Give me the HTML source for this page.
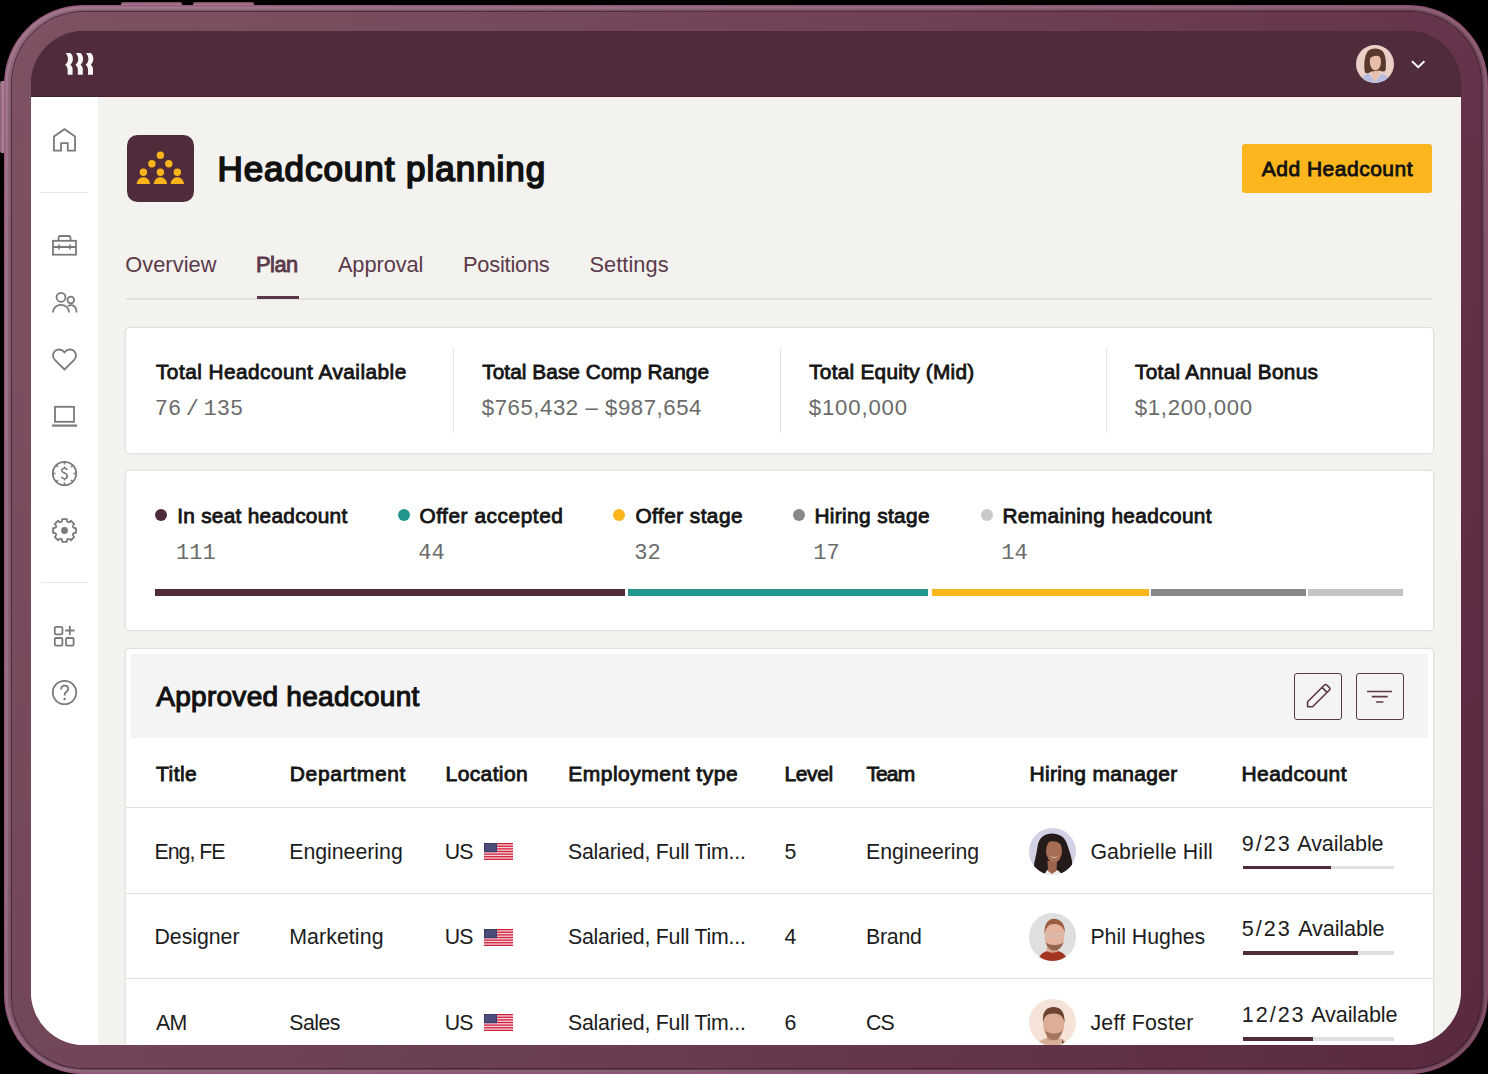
<!DOCTYPE html>
<html><head><meta charset="utf-8"><title>Headcount planning</title>
<style>
html,body{margin:0;padding:0;}
body{width:1488px;height:1074px;position:relative;overflow:hidden;background:#000;font-family:'Liberation Sans', sans-serif;}
.t{position:absolute;line-height:1;white-space:nowrap;}
.r{position:absolute;}
</style></head><body>
<div class="r" style="left:121px;top:1.6px;width:61px;height:6px;border-radius:2px;background:linear-gradient(#7a4a60,#a77d92 45%,#7f5266)"></div>
<div class="r" style="left:193px;top:1.6px;width:61px;height:6px;border-radius:2px;background:linear-gradient(#7a4a60,#a77d92 45%,#7f5266)"></div>
<div class="r" style="left:0px;top:81px;width:8px;height:72px;border-radius:2px;background:linear-gradient(90deg,#8d5f76,#b08499 40%,#7f5266)"></div>
<div class="r" style="left:3.8px;top:4.8px;width:1484.2px;height:1069.2px;border-radius:79px;background:linear-gradient(180deg,rgba(255,255,255,0.06),rgba(255,255,255,0) 25%,rgba(0,0,0,0) 70%,rgba(0,0,0,0.08)),linear-gradient(100deg,#8a6075 0%,#7a4f64 50%,#66394d 100%);box-shadow:inset 0 0 0 1.4px rgba(150,70,115,0.6), inset 0 0 0 3.8px rgba(255,220,240,0.16)"></div>
<div class="r" style="left:11.5px;top:11.8px;width:1469.5px;height:1056.7px;border-radius:72px;background:linear-gradient(180deg,rgba(255,255,255,0.02),rgba(0,0,0,0) 40%,rgba(0,0,0,0.05)),linear-gradient(100deg,#7b4e60 0%,#6f3f54 50%,#5f2b43 100%);box-shadow:0 0 0 1.2px rgba(50,18,34,0.65)"></div>
<div class="r" style="left:31px;top:31px;width:1430px;height:1014px;border-radius:53px;overflow:hidden;background:linear-gradient(#4f2b3c 0 60px,#f3f2ef 60px)">
<div style="position:absolute;left:-31px;top:-31px;width:1488px;height:1074px">
<div class="r" style="left:31px;top:31px;width:1430.0px;height:66.0px;background:#4f2b3c;"></div>
<div class="r" style="left:31px;top:96px;width:1430.0px;height:1.0px;background:#481f31;"></div>
<div class="r" style="left:31px;top:97px;width:67.0px;height:948.0px;background:#ffffff;"></div>
<svg class="r" style="left:64.6px;top:53px" width="30" height="23" viewBox="0 0 30 23">
<g fill="#f7f6f4">
<path d="M0.6,0 H5.2 C7,1.2 8,3.6 7.9,6.2 C7.8,8.8 6.6,10.6 5.4,11.8 C6.8,13 7.6,14.4 7.6,16.2 V21.8 H2.6 V16.4 C2.6,14.6 1.4,13 0.2,11.8 C1.8,10.4 2.9,8.6 3,6.2 C3,3.6 2,1.4 0.6,0 Z"/>
<path transform="translate(10.2 0)" d="M0.6,0 H5.2 C7,1.2 8,3.6 7.9,6.2 C7.8,8.8 6.6,10.6 5.4,11.8 C6.8,13 7.6,14.4 7.6,16.2 V21.8 H2.6 V16.4 C2.6,14.6 1.4,13 0.2,11.8 C1.8,10.4 2.9,8.6 3,6.2 C3,3.6 2,1.4 0.6,0 Z"/>
<path transform="translate(20.4 0)" d="M0.6,0 H5.2 C7,1.2 8,3.6 7.9,6.2 C7.8,8.8 6.6,10.6 5.4,11.8 C6.8,13 7.6,14.4 7.6,16.2 V21.8 H2.6 V16.4 C2.6,14.6 1.4,13 0.2,11.8 C1.8,10.4 2.9,8.6 3,6.2 C3,3.6 2,1.4 0.6,0 Z"/>
</g></svg>
<div class="r" style="left:1356px;top:45px;width:38px;height:38px;border-radius:50%;overflow:hidden"><svg style="display:block" width="38" height="38" viewBox="0 0 38 38">
<g>
<rect width="38" height="38" fill="#ead0c6"/>
<path d="M4,38 C5,32 9,29.5 13,28.5 L19.3,37 L25,28.5 C29,29.5 33,31 34.5,38 Z" fill="#b8bde0"/>
<path d="M14,26 L19.3,37 L24.5,26 Z" fill="#e6c0ad"/>
<path d="M9,27.5 C7.5,20 8.5,10 12,6 C15,2.5 23,2.5 26.5,6 C30,10 30.5,19 29.5,25.5 C28,27 25.5,26.5 24,25.5 L15,26.5 C13,28.5 10.5,28.8 9,27.5 Z" fill="#5a382b"/>
<ellipse cx="19.4" cy="17" rx="5.6" ry="8.4" fill="#e7bea9"/>
<path d="M13.6,13.5 C14,8 17,6.8 20,6.8 C23,6.8 25.6,9 25.2,12.5 C22,9.8 17,10.2 13.6,13.5 Z" fill="#5a382b"/>
</g></svg></div>
<svg class="r" style="left:1410px;top:58px" width="16" height="12" viewBox="0 0 16 12"><path d="M2,3.2 L8.2,9.2 L14.4,3.2" fill="none" stroke="#fff" stroke-width="1.9"/></svg>
<svg class="r" style="left:52px;top:127px" width="26" height="26" viewBox="0 0 26 26" fill="none" stroke="#7a7a7a" stroke-width="1.8"><path d="M1.95,23.55 V9.5 L12.5,2.2 L23.05,9.5 V23.55 H15.75 V16.05 H9.05 V23.55 Z" stroke-linejoin="miter"/></svg>
<div class="r" style="left:41px;top:191.5px;width:47.0px;height:1.3px;background:#e7e7e7;"></div>
<svg class="r" style="left:51px;top:233px" width="27" height="24" viewBox="0 0 27 24" fill="none" stroke="#7a7a7a" stroke-width="1.8"><rect x="2" y="7.8" width="23" height="13.9"/><path d="M7.5,7.8 V5 Q7.5,3 9.5,3 H17.5 Q19.5,3 19.5,5 V7.8"/><path d="M2,14 H25"/><path d="M8,11.5 V16.5 M19,11.5 V16.5" stroke-width="1.6"/></svg>
<svg class="r" style="left:51px;top:291px" width="27" height="23" viewBox="0 0 27 23" fill="none" stroke="#7a7a7a" stroke-width="1.8"><circle cx="10" cy="6.3" r="4.5"/><circle cx="19.8" cy="9" r="3.3"/><path d="M1.9,21.5 C2.5,16.5 6,13.8 10,13.8 C14,13.8 17.5,16.5 18.1,21.5"/><path d="M17,15.2 C18,14.4 19,14.2 20,14.2 C23,14.2 25.3,16.8 25.6,21.5"/></svg>
<svg class="r" style="left:51px;top:346px" width="27" height="26" viewBox="0 0 27 26" fill="none" stroke="#7a7a7a" stroke-width="1.8"><path d="M13.5,23.5 L3.8,13.8 C1.5,11.5 1.5,7.5 3.8,5.2 C6.1,2.9 10,2.9 12.3,5.2 L13.5,6.4 L14.7,5.2 C17,2.9 20.9,2.9 23.2,5.2 C25.5,7.5 25.5,11.5 23.2,13.8 Z" stroke-linejoin="miter"/></svg>
<svg class="r" style="left:51px;top:404px" width="27" height="24" viewBox="0 0 27 24" fill="none" stroke="#7a7a7a" stroke-width="1.8"><rect x="4" y="2.8" width="19" height="15"/><path d="M1,21.6 H26" stroke-width="2.2"/></svg>
<svg class="r" style="left:51px;top:460px" width="27" height="27" viewBox="0 0 27 27" fill="none" stroke="#7a7a7a" stroke-width="1.8"><circle cx="13.5" cy="13.5" r="11.7"/><path d="M13.5,1.8 V4.5 M13.5,22.5 V25.2 M1.8,13.5 H4.5 M22.5,13.5 H25.2 M5.2,5.2 L7,7 M20,20 L21.8,21.8 M21.8,5.2 L20,7 M7,20 L5.2,21.8" stroke-width="1.6"/><path d="M16.3,10 C16,8.9 15,8.3 13.5,8.3 C11.8,8.3 10.8,9.2 10.8,10.5 C10.8,13.5 16.3,12.6 16.3,16 C16.3,17.6 15.1,18.7 13.5,18.7 C11.9,18.7 10.9,17.9 10.6,16.8 M13.5,6.6 V8.3 M13.5,18.7 V20.4" stroke-width="1.6"/></svg>
<svg class="r" style="left:51px;top:517px" width="27" height="27" viewBox="0 0 27 27" fill="none" stroke="#7a7a7a" stroke-width="1.8"><path d="M11.17,2.03 L15.83,2.03 L15.98,3.92 Q16.71,5.74 18.52,4.97 L19.96,3.74 L23.26,7.04 L22.03,8.48 Q21.26,10.29 23.08,11.02 L24.97,11.17 L24.97,15.83 L23.08,15.98 Q21.26,16.71 22.03,18.52 L23.26,19.96 L19.96,23.26 L18.52,22.03 Q16.71,21.26 15.98,23.08 L15.83,24.97 L11.17,24.97 L11.02,23.08 Q10.29,21.26 8.48,22.03 L7.04,23.26 L3.74,19.96 L4.97,18.52 Q5.74,16.71 3.92,15.98 L2.03,15.83 L2.03,11.17 L3.92,11.02 Q5.74,10.29 4.97,8.48 L3.74,7.04 L7.04,3.74 L8.48,4.97 Q10.29,5.74 11.02,3.92 Z" stroke-linejoin="round"/><circle cx="13.5" cy="13.5" r="3.4" fill="#7a7a7a" stroke="none"/></svg>
<div class="r" style="left:41px;top:581.5px;width:47.0px;height:1.3px;background:#e7e7e7;"></div>
<svg class="r" style="left:52px;top:624px" width="25" height="24" viewBox="0 0 25 24" fill="none" stroke="#7a7a7a" stroke-width="1.8"><rect x="2.8" y="2.8" width="7.6" height="7.6" rx="1.2"/><rect x="2.8" y="14" width="7.6" height="7.6" rx="1.2"/><rect x="14" y="14" width="7.6" height="7.6" rx="1.2"/><path d="M17.8,1.8 V11.2 M13.1,6.5 H22.5"/></svg>
<svg class="r" style="left:51px;top:679px" width="27" height="27" viewBox="0 0 27 27" fill="none" stroke="#7a7a7a" stroke-width="1.8"><circle cx="13.5" cy="13.5" r="11.7"/><path d="M10,10.5 C10,8 11.6,6.6 13.6,6.6 C15.7,6.6 17.2,8 17.2,10 C17.2,12.6 13.6,13 13.6,15.8 V16.6" stroke-width="1.8"/><circle cx="13.6" cy="20" r="1.2" fill="#7a7a7a" stroke="none"/></svg>
<svg class="r" style="left:126.5px;top:135px" width="67" height="67" viewBox="0 0 67 67">
<rect width="67" height="67" rx="10.5" fill="#4f2b3c"/>
<g fill="#fbb518">
<circle cx="33.4" cy="20.3" r="3.7"/><circle cx="24.9" cy="28.7" r="3.7"/><circle cx="41.8" cy="28.7" r="3.7"/>
<circle cx="16.4" cy="37.2" r="3.7"/><circle cx="33.4" cy="37.2" r="3.7"/><circle cx="50.3" cy="37.2" r="3.7"/>
<path d="M9.7,49 C10.2,44.5 13,42.2 16.4,42.2 C19.8,42.2 22.6,44.5 23.1,49 Z"/>
<path d="M26.7,49 C27.2,44.5 30,42.2 33.4,42.2 C36.8,42.2 39.6,44.5 40.1,49 Z"/>
<path d="M43.6,49 C44.1,44.5 46.9,42.2 50.3,42.2 C53.7,42.2 56.5,44.5 57,49 Z"/>
</g></svg>
<div class="t" style="left:217.4px;top:150.8px;font-size:35px;font-weight:400;color:#111111;font-family:'Liberation Sans', sans-serif;letter-spacing:0.97px;-webkit-text-stroke:1.7px #111111;">Headcount planning</div>
<div class="r" style="left:1242px;top:143.6px;width:190px;height:49.7px;border-radius:3px;background:#fbb61e"></div>
<div class="t" style="left:1261.7px;top:158.0px;font-size:21px;font-weight:400;color:#111111;font-family:'Liberation Sans', sans-serif;letter-spacing:0.51px;-webkit-text-stroke:0.84px #111111;">Add Headcount</div>
<div class="t" style="left:125.2px;top:254.1px;font-size:21.8px;font-weight:400;color:#5b3a4a;font-family:'Liberation Sans', sans-serif;letter-spacing:0.07px;">Overview</div>
<div class="t" style="left:256.0px;top:254.1px;font-size:21.8px;font-weight:400;color:#5b3a4a;font-family:'Liberation Sans', sans-serif;letter-spacing:-0.49px;-webkit-text-stroke:0.87px #5b3a4a;">Plan</div>
<div class="t" style="left:337.9px;top:254.1px;font-size:21.8px;font-weight:400;color:#5b3a4a;font-family:'Liberation Sans', sans-serif;letter-spacing:-0.07px;">Approval</div>
<div class="t" style="left:463.0px;top:254.1px;font-size:21.8px;font-weight:400;color:#5b3a4a;font-family:'Liberation Sans', sans-serif;letter-spacing:-0.21px;">Positions</div>
<div class="t" style="left:589.4px;top:254.1px;font-size:21.8px;font-weight:400;color:#5b3a4a;font-family:'Liberation Sans', sans-serif;letter-spacing:0.06px;">Settings</div>
<div class="r" style="left:126px;top:298px;width:1306.5px;height:1.5px;background:#e3e1de;"></div>
<div class="r" style="left:256.7px;top:296.3px;width:42.5px;height:3.2px;background:#5a3848;"></div>
<div class="r" style="left:126px;top:327.7px;width:1306.5px;height:125px;border-radius:3.5px;background:#fff;box-shadow:0 0 0 1.3px #e3e1e0"></div>
<div class="r" style="left:453px;top:348px;width:1.2px;height:84.5px;background:#e2e2e2;"></div>
<div class="r" style="left:779.5px;top:348px;width:1.2px;height:84.5px;background:#e2e2e2;"></div>
<div class="r" style="left:1106px;top:348px;width:1.2px;height:84.5px;background:#e2e2e2;"></div>
<div class="t" style="left:156.0px;top:362.2px;font-size:20.8px;font-weight:400;color:#151515;font-family:'Liberation Sans', sans-serif;letter-spacing:0.47px;-webkit-text-stroke:0.83px #151515;">Total Headcount Available</div>
<div class="t" style="left:154.8px;top:399.4px;font-size:22px;font-weight:400;color:#6b6b6b;font-family:'Liberation Mono', monospace;letter-spacing:0px;word-spacing:-8.6px">76 / 135</div>
<div class="t" style="left:482.2px;top:362.2px;font-size:20.8px;font-weight:400;color:#151515;font-family:'Liberation Sans', sans-serif;letter-spacing:0.07px;-webkit-text-stroke:0.83px #151515;">Total Base Comp Range</div>
<div class="t" style="left:481.8px;top:397.4px;font-size:22.2px;font-weight:400;color:#6b6b6b;font-family:'Liberation Sans', sans-serif;letter-spacing:0.55px;">$765,432 – $987,654</div>
<div class="t" style="left:809.2px;top:362.2px;font-size:20.8px;font-weight:400;color:#151515;font-family:'Liberation Sans', sans-serif;letter-spacing:0.26px;-webkit-text-stroke:0.83px #151515;">Total Equity (Mid)</div>
<div class="t" style="left:808.8px;top:397.4px;font-size:22.2px;font-weight:400;color:#6b6b6b;font-family:'Liberation Sans', sans-serif;letter-spacing:0.82px;">$100,000</div>
<div class="t" style="left:1135.1px;top:362.2px;font-size:20.8px;font-weight:400;color:#151515;font-family:'Liberation Sans', sans-serif;letter-spacing:0.28px;-webkit-text-stroke:0.83px #151515;">Total Annual Bonus</div>
<div class="t" style="left:1134.7px;top:397.4px;font-size:22.2px;font-weight:400;color:#6b6b6b;font-family:'Liberation Sans', sans-serif;letter-spacing:0.71px;">$1,200,000</div>
<div class="r" style="left:126px;top:471px;width:1306.5px;height:159px;border-radius:3.5px;background:#fff;box-shadow:0 0 0 1.3px #e3e1e0"></div>
<div class="r" style="left:154.8px;top:509.3px;width:12px;height:12px;border-radius:50%;background:#4f2b3c"></div>
<div class="t" style="left:177.2px;top:505.6px;font-size:20.8px;font-weight:400;color:#151515;font-family:'Liberation Sans', sans-serif;letter-spacing:0.29px;-webkit-text-stroke:0.83px #151515;">In seat headcount</div>
<div class="t" style="left:176.0px;top:542.7px;font-size:22px;font-weight:400;color:#6b6b6b;font-family:'Liberation Mono', monospace;letter-spacing:0px;">111</div>
<div class="r" style="left:397.8px;top:509.3px;width:12px;height:12px;border-radius:50%;background:#22968d"></div>
<div class="t" style="left:419.4px;top:505.6px;font-size:20.8px;font-weight:400;color:#151515;font-family:'Liberation Sans', sans-serif;letter-spacing:0.57px;-webkit-text-stroke:0.83px #151515;">Offer accepted</div>
<div class="t" style="left:418.2px;top:542.7px;font-size:22px;font-weight:400;color:#6b6b6b;font-family:'Liberation Mono', monospace;letter-spacing:0px;">44</div>
<div class="r" style="left:613.3px;top:509.3px;width:12px;height:12px;border-radius:50%;background:#fbb61e"></div>
<div class="t" style="left:635.4px;top:505.6px;font-size:20.8px;font-weight:400;color:#151515;font-family:'Liberation Sans', sans-serif;letter-spacing:0.46px;-webkit-text-stroke:0.83px #151515;">Offer stage</div>
<div class="t" style="left:634.2px;top:542.7px;font-size:22px;font-weight:400;color:#6b6b6b;font-family:'Liberation Mono', monospace;letter-spacing:0px;">32</div>
<div class="r" style="left:792.8px;top:509.3px;width:12px;height:12px;border-radius:50%;background:#888888"></div>
<div class="t" style="left:814.4px;top:505.6px;font-size:20.8px;font-weight:400;color:#151515;font-family:'Liberation Sans', sans-serif;letter-spacing:0.38px;-webkit-text-stroke:0.83px #151515;">Hiring stage</div>
<div class="t" style="left:813.2px;top:542.7px;font-size:22px;font-weight:400;color:#6b6b6b;font-family:'Liberation Mono', monospace;letter-spacing:0px;">17</div>
<div class="r" style="left:980.7px;top:509.3px;width:12px;height:12px;border-radius:50%;background:#c9c9c9"></div>
<div class="t" style="left:1002.4px;top:505.6px;font-size:20.8px;font-weight:400;color:#151515;font-family:'Liberation Sans', sans-serif;letter-spacing:0.38px;-webkit-text-stroke:0.83px #151515;">Remaining headcount</div>
<div class="t" style="left:1001.2px;top:542.7px;font-size:22px;font-weight:400;color:#6b6b6b;font-family:'Liberation Mono', monospace;letter-spacing:0px;">14</div>
<div class="r" style="left:155px;top:589px;width:470.0px;height:7.0px;background:#4f2b3c;"></div>
<div class="r" style="left:628.4px;top:589px;width:299.3px;height:7.0px;background:#22968d;"></div>
<div class="r" style="left:932px;top:589px;width:216.5px;height:7.0px;background:#fbb61e;"></div>
<div class="r" style="left:1151.3px;top:589px;width:154.5px;height:7.0px;background:#888888;"></div>
<div class="r" style="left:1308.2px;top:589px;width:95.3px;height:7.0px;background:#c4c4c4;"></div>
<div class="r" style="left:126px;top:649px;width:1306.5px;height:420px;border-radius:3.5px;background:#fff;box-shadow:0 0 0 1.3px #e3e1e0"></div>
<div class="r" style="left:131.3px;top:653.7px;width:1296.5px;height:84.7px;background:#f4f4f4;"></div>
<div class="t" style="left:156.3px;top:683.0px;font-size:28px;font-weight:400;color:#111111;font-family:'Liberation Sans', sans-serif;letter-spacing:0.27px;-webkit-text-stroke:1.12px #111111;">Approved headcount</div>
<div class="r" style="left:1294px;top:672.7px;width:47.5px;height:47px;box-sizing:border-box;border:1.5px solid #5a3848;border-radius:3px"></div>
<div class="r" style="left:1356.1px;top:672.7px;width:47.5px;height:47px;box-sizing:border-box;border:1.5px solid #5a3848;border-radius:3px"></div>
<svg class="r" style="left:1294px;top:672.7px" width="47.5" height="47" viewBox="0 0 47.5 47"><path d="M13.6,33.8 V28.8 L30.2,12.2 Q31.6,10.8 33,12.2 L35.2,14.4 Q36.6,15.8 35.2,17.2 L18.6,33.8 Z M28,14.4 L33,19.4" fill="none" stroke="#5a3848" stroke-width="1.6" stroke-linejoin="round"/></svg>
<svg class="r" style="left:1356.1px;top:672.7px" width="47.5" height="47" viewBox="0 0 47.5 47"><path d="M11,18.5 H36.1 M15.8,23.6 H31.7 M20.1,29 H27.4" fill="none" stroke="#5a3848" stroke-width="1.7"/></svg>
<div class="t" style="left:156.1px;top:763.4px;font-size:21px;font-weight:400;color:#151515;font-family:'Liberation Sans', sans-serif;letter-spacing:0.45px;-webkit-text-stroke:0.84px #151515;">Title</div>
<div class="t" style="left:289.8px;top:763.4px;font-size:21px;font-weight:400;color:#151515;font-family:'Liberation Sans', sans-serif;letter-spacing:0.66px;-webkit-text-stroke:0.84px #151515;">Department</div>
<div class="t" style="left:445.6px;top:763.4px;font-size:21px;font-weight:400;color:#151515;font-family:'Liberation Sans', sans-serif;letter-spacing:0.38px;-webkit-text-stroke:0.84px #151515;">Location</div>
<div class="t" style="left:568.2px;top:763.4px;font-size:21px;font-weight:400;color:#151515;font-family:'Liberation Sans', sans-serif;letter-spacing:0.51px;-webkit-text-stroke:0.84px #151515;">Employment type</div>
<div class="t" style="left:784.4px;top:763.4px;font-size:21px;font-weight:400;color:#151515;font-family:'Liberation Sans', sans-serif;letter-spacing:-0.36px;-webkit-text-stroke:0.84px #151515;">Level</div>
<div class="t" style="left:866.4px;top:763.4px;font-size:21px;font-weight:400;color:#151515;font-family:'Liberation Sans', sans-serif;letter-spacing:-0.86px;-webkit-text-stroke:0.84px #151515;">Team</div>
<div class="t" style="left:1029.6px;top:763.4px;font-size:21px;font-weight:400;color:#151515;font-family:'Liberation Sans', sans-serif;letter-spacing:0.31px;-webkit-text-stroke:0.84px #151515;">Hiring manager</div>
<div class="t" style="left:1241.5px;top:763.4px;font-size:21px;font-weight:400;color:#151515;font-family:'Liberation Sans', sans-serif;letter-spacing:0.43px;-webkit-text-stroke:0.84px #151515;">Headcount</div>
<div class="r" style="left:126px;top:807px;width:1306.5px;height:1.0px;background:#e3e1de;"></div>
<div class="r" style="left:126px;top:893px;width:1306.5px;height:1.0px;background:#e3e1de;"></div>
<div class="r" style="left:126px;top:978px;width:1306.5px;height:1.0px;background:#e3e1de;"></div>
<div class="t" style="left:154.5px;top:841.7px;font-size:21.3px;font-weight:400;color:#1c1c1c;font-family:'Liberation Sans', sans-serif;letter-spacing:-1.0px;">Eng, FE</div>
<div class="t" style="left:289.2px;top:841.7px;font-size:21.3px;font-weight:400;color:#1c1c1c;font-family:'Liberation Sans', sans-serif;letter-spacing:-0.01px;">Engineering</div>
<div class="t" style="left:444.8px;top:841.7px;font-size:21.3px;font-weight:400;color:#1c1c1c;font-family:'Liberation Sans', sans-serif;letter-spacing:-1.0px;">US</div>
<div class="t" style="left:568.0px;top:841.7px;font-size:21.3px;font-weight:400;color:#1c1c1c;font-family:'Liberation Sans', sans-serif;letter-spacing:-0.22px;">Salaried, Full Tim...</div>
<div class="t" style="left:784.6px;top:841.7px;font-size:21.3px;font-weight:400;color:#1c1c1c;font-family:'Liberation Sans', sans-serif;letter-spacing:0px;">5</div>
<div class="t" style="left:866.0px;top:841.7px;font-size:21.3px;font-weight:400;color:#1c1c1c;font-family:'Liberation Sans', sans-serif;letter-spacing:-0.05px;">Engineering</div>
<div class="t" style="left:1090.4px;top:841.5px;font-size:21.3px;font-weight:400;color:#1c1c1c;font-family:'Liberation Sans', sans-serif;letter-spacing:0.13px;">Gabrielle Hill</div>
<div class="t" style="left:1241.8px;top:832.7px;font-size:21.6px;font-weight:400;color:#1c1c1c;font-family:'Liberation Sans', sans-serif;letter-spacing:1.96px;">9/23</div>
<div class="t" style="left:1297.3px;top:832.7px;font-size:21.6px;font-weight:400;color:#1c1c1c;font-family:'Liberation Sans', sans-serif;letter-spacing:-0.12px;">Available</div>
<div class="r" style="left:1242.7px;top:865.5px;width:151.7px;height:3.8px;background:#e0e0e0;"></div>
<div class="r" style="left:1242.7px;top:865.5px;width:88.1px;height:3.8px;background:#4f2b3c;"></div>
<svg class="r" style="left:483.8px;top:842.9px" width="29" height="17" viewBox="0 0 29 17"><rect width="29" height="17" fill="#f3d6da"/><rect x="0" y="0.00" width="29" height="1.31" fill="#d21f3c"/><rect x="0" y="2.62" width="29" height="1.31" fill="#d21f3c"/><rect x="0" y="5.23" width="29" height="1.31" fill="#d21f3c"/><rect x="0" y="7.85" width="29" height="1.31" fill="#d21f3c"/><rect x="0" y="10.46" width="29" height="1.31" fill="#d21f3c"/><rect x="0" y="13.08" width="29" height="1.31" fill="#d21f3c"/><rect x="0" y="15.69" width="29" height="1.31" fill="#d21f3c"/><rect width="13" height="9.2" fill="#3c3b6e"/><rect x="1" y="1" width="11" height="7.2" fill="#56597f" opacity="0.6"/></svg>
<div class="r" style="left:1028.6px;top:827.6px;width:47.4px;height:47.4px;border-radius:50%;overflow:hidden"><svg style="display:block;margin:-0.3px" width="48" height="48" viewBox="0 0 48 48"><rect width="48" height="48" fill="#d3d1e6"/><path d="M24,6.5 C31,6.5 37,10 39,17 C41,23 43,28 44,34 C45,40 41,45 36,46 L12,46.5 C7,45 5,40 6.5,35 C8,29 9,23 10,17 C12,10 17,6.5 24,6.5 Z" fill="#241a19"/><path d="M17,48 C17,44 20,42 24,42 C28,42 32,44 34,48 Z" fill="#eeeeec"/><path d="M19.5,34 L20,44 L24,47 L28.5,44 L29,34 Z" fill="#9c644d"/><ellipse cx="26" cy="24" rx="8" ry="11.5" fill="#a66e55"/><path d="M21.5,29 Q26,32.5 30.5,29 Q26,31 21.5,29 Z" fill="#f4ece6"/><path d="M18,16 C19,11 23,10 27,10.5 C31,11 34,14 34,19 C31,14 24,13 18,16 Z" fill="#241a19"/></svg></div>
<div class="t" style="left:154.5px;top:927.4px;font-size:21.3px;font-weight:400;color:#1c1c1c;font-family:'Liberation Sans', sans-serif;letter-spacing:-0.03px;">Designer</div>
<div class="t" style="left:289.2px;top:927.4px;font-size:21.3px;font-weight:400;color:#1c1c1c;font-family:'Liberation Sans', sans-serif;letter-spacing:0.1px;">Marketing</div>
<div class="t" style="left:444.8px;top:927.4px;font-size:21.3px;font-weight:400;color:#1c1c1c;font-family:'Liberation Sans', sans-serif;letter-spacing:-1.0px;">US</div>
<div class="t" style="left:568.0px;top:927.4px;font-size:21.3px;font-weight:400;color:#1c1c1c;font-family:'Liberation Sans', sans-serif;letter-spacing:-0.22px;">Salaried, Full Tim...</div>
<div class="t" style="left:784.6px;top:927.4px;font-size:21.3px;font-weight:400;color:#1c1c1c;font-family:'Liberation Sans', sans-serif;letter-spacing:0px;">4</div>
<div class="t" style="left:866.0px;top:927.4px;font-size:21.3px;font-weight:400;color:#1c1c1c;font-family:'Liberation Sans', sans-serif;letter-spacing:-0.24px;">Brand</div>
<div class="t" style="left:1090.4px;top:927.2px;font-size:21.3px;font-weight:400;color:#1c1c1c;font-family:'Liberation Sans', sans-serif;letter-spacing:-0.0px;">Phil Hughes</div>
<div class="t" style="left:1241.8px;top:918.4px;font-size:21.6px;font-weight:400;color:#1c1c1c;font-family:'Liberation Sans', sans-serif;letter-spacing:1.96px;">5/23</div>
<div class="t" style="left:1298.2px;top:918.4px;font-size:21.6px;font-weight:400;color:#1c1c1c;font-family:'Liberation Sans', sans-serif;letter-spacing:-0.12px;">Available</div>
<div class="r" style="left:1242.7px;top:951.2px;width:151.7px;height:3.8px;background:#e0e0e0;"></div>
<div class="r" style="left:1242.7px;top:951.2px;width:115.6px;height:3.8px;background:#4f2b3c;"></div>
<svg class="r" style="left:483.8px;top:928.6px" width="29" height="17" viewBox="0 0 29 17"><rect width="29" height="17" fill="#f3d6da"/><rect x="0" y="0.00" width="29" height="1.31" fill="#d21f3c"/><rect x="0" y="2.62" width="29" height="1.31" fill="#d21f3c"/><rect x="0" y="5.23" width="29" height="1.31" fill="#d21f3c"/><rect x="0" y="7.85" width="29" height="1.31" fill="#d21f3c"/><rect x="0" y="10.46" width="29" height="1.31" fill="#d21f3c"/><rect x="0" y="13.08" width="29" height="1.31" fill="#d21f3c"/><rect x="0" y="15.69" width="29" height="1.31" fill="#d21f3c"/><rect width="13" height="9.2" fill="#3c3b6e"/><rect x="1" y="1" width="11" height="7.2" fill="#56597f" opacity="0.6"/></svg>
<div class="r" style="left:1028.6px;top:913.3px;width:47.4px;height:47.4px;border-radius:50%;overflow:hidden"><svg style="display:block;margin:-0.3px" width="48" height="48" viewBox="0 0 48 48"><rect width="48" height="48" fill="#dfdfdf"/><path d="M10,48 C11,42 15,39 20,37.5 L29,37.5 C34,39 38,42 39,46 L39,48 Z" fill="#a23421"/><path d="M19,32 H30 V38.5 C28,40 21,40 19,38.5 Z" fill="#d9a68c"/><ellipse cx="26.5" cy="22.5" rx="10" ry="14.5" fill="#e3b39d"/><path d="M16.5,21 C16,11 20,6 26,5.8 C32,6 37,10 37,20 C35,13 31,11 26,11 C21,11 18,14 16.5,21 Z" fill="#9c5d42"/><path d="M17.5,29 C19,35 23,37.5 26.5,37.5 C30,37.5 34,35 35.5,29 C33,33 20,33 17.5,29 Z" fill="#7a4a36" opacity="0.75"/><path d="M15.5,20.5 H36.5" stroke="#c9c0ba" stroke-width="0.9" fill="none"/><ellipse cx="22" cy="22.5" rx="3.6" ry="2.6" fill="none" stroke="#cfc6c0" stroke-width="0.8"/><ellipse cx="31" cy="23" rx="3.6" ry="2.6" fill="none" stroke="#cfc6c0" stroke-width="0.8"/></svg></div>
<div class="t" style="left:156.0px;top:1013.1px;font-size:21.3px;font-weight:400;color:#1c1c1c;font-family:'Liberation Sans', sans-serif;letter-spacing:-0.65px;">AM</div>
<div class="t" style="left:289.2px;top:1013.1px;font-size:21.3px;font-weight:400;color:#1c1c1c;font-family:'Liberation Sans', sans-serif;letter-spacing:-0.51px;">Sales</div>
<div class="t" style="left:444.8px;top:1013.1px;font-size:21.3px;font-weight:400;color:#1c1c1c;font-family:'Liberation Sans', sans-serif;letter-spacing:-1.0px;">US</div>
<div class="t" style="left:568.0px;top:1013.1px;font-size:21.3px;font-weight:400;color:#1c1c1c;font-family:'Liberation Sans', sans-serif;letter-spacing:-0.22px;">Salaried, Full Tim...</div>
<div class="t" style="left:784.6px;top:1013.1px;font-size:21.3px;font-weight:400;color:#1c1c1c;font-family:'Liberation Sans', sans-serif;letter-spacing:0px;">6</div>
<div class="t" style="left:866.0px;top:1013.1px;font-size:21.3px;font-weight:400;color:#1c1c1c;font-family:'Liberation Sans', sans-serif;letter-spacing:-1.0px;">CS</div>
<div class="t" style="left:1090.4px;top:1012.9px;font-size:21.3px;font-weight:400;color:#1c1c1c;font-family:'Liberation Sans', sans-serif;letter-spacing:0.28px;">Jeff Foster</div>
<div class="t" style="left:1241.8px;top:1004.1px;font-size:21.6px;font-weight:400;color:#1c1c1c;font-family:'Liberation Sans', sans-serif;letter-spacing:1.95px;">12/23</div>
<div class="t" style="left:1311.2px;top:1004.1px;font-size:21.6px;font-weight:400;color:#1c1c1c;font-family:'Liberation Sans', sans-serif;letter-spacing:-0.12px;">Available</div>
<div class="r" style="left:1242.7px;top:1036.9px;width:151.7px;height:3.8px;background:#e0e0e0;"></div>
<div class="r" style="left:1242.7px;top:1036.9px;width:70.2px;height:3.8px;background:#4f2b3c;"></div>
<svg class="r" style="left:483.8px;top:1014.3px" width="29" height="17" viewBox="0 0 29 17"><rect width="29" height="17" fill="#f3d6da"/><rect x="0" y="0.00" width="29" height="1.31" fill="#d21f3c"/><rect x="0" y="2.62" width="29" height="1.31" fill="#d21f3c"/><rect x="0" y="5.23" width="29" height="1.31" fill="#d21f3c"/><rect x="0" y="7.85" width="29" height="1.31" fill="#d21f3c"/><rect x="0" y="10.46" width="29" height="1.31" fill="#d21f3c"/><rect x="0" y="13.08" width="29" height="1.31" fill="#d21f3c"/><rect x="0" y="15.69" width="29" height="1.31" fill="#d21f3c"/><rect width="13" height="9.2" fill="#3c3b6e"/><rect x="1" y="1" width="11" height="7.2" fill="#56597f" opacity="0.6"/></svg>
<div class="r" style="left:1028.6px;top:999.0px;width:47.4px;height:47.4px;border-radius:50%;overflow:hidden"><svg style="display:block;margin:-0.3px" width="48" height="48" viewBox="0 0 48 48"><rect width="48" height="48" fill="#f5e3d8"/><path d="M8,48 C9,43 14,40 19,39 L31,39 C36,40 39,43 40,48 Z" fill="#d9b19b"/><path d="M34,40 L37,46 L35,48 Z" fill="#3a2a26"/><path d="M19,33 H31 V40 C29,42 21,42 19,40 Z" fill="#c99479"/><ellipse cx="25.7" cy="25" rx="10.5" ry="15.5" fill="#dcae95"/><path d="M15,24 C14,13 18,8 25.5,8 C33,8 37,13 36.5,24 C35,17 32,14.5 25.5,14.5 C19,14.5 16,17 15,24 Z" fill="#6e4330"/><path d="M17,31 C18,38 22,41 25.7,41 C29.5,41 33.5,38 34.5,31 C32,35.5 19.5,35.5 17,31 Z" fill="#8d5e48" opacity="0.7"/></svg></div>
</div></div>
</body></html>
